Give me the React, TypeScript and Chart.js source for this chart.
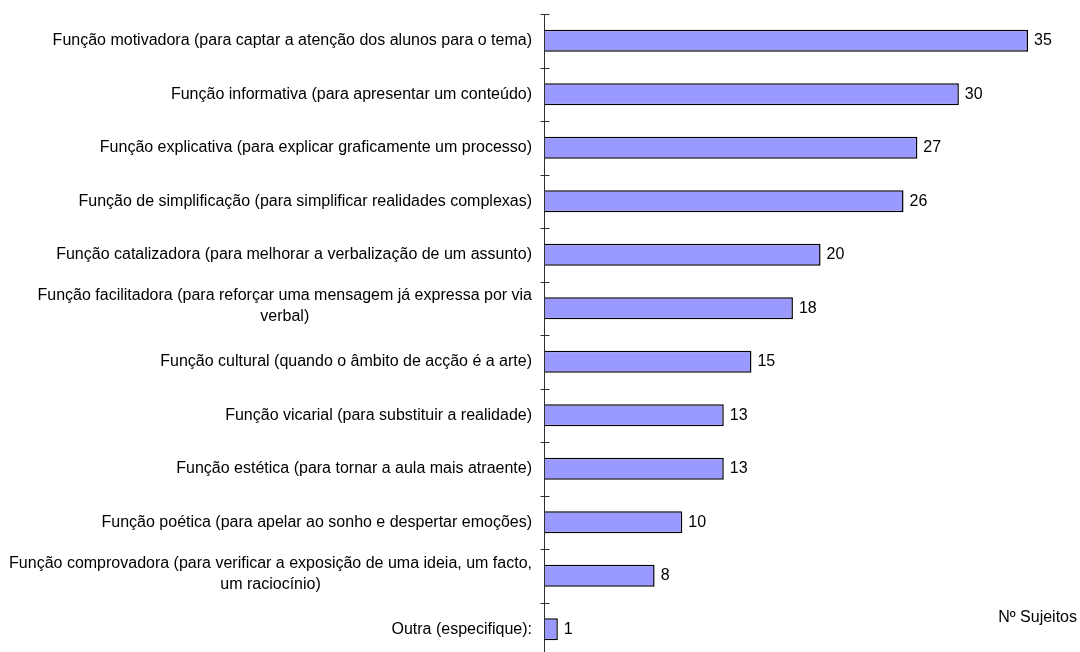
import React, { useEffect, useRef } from "react";
import { Chart, registerables } from "chart.js";

Chart.register(...registerables);

const categories: string[][] = [
  ["Função motivadora (para captar a atenção dos alunos para o tema)"],
  ["Função informativa (para apresentar um conteúdo)"],
  ["Função explicativa (para explicar graficamente um processo)"],
  ["Função de simplificação (para simplificar realidades complexas)"],
  ["Função catalizadora (para melhorar a verbalização de um assunto)"],
  ["Função facilitadora (para reforçar uma mensagem já expressa por via", "verbal)"],
  ["Função cultural (quando o âmbito de acção é a arte)"],
  ["Função vicarial (para substituir a realidade)"],
  ["Função estética (para tornar a aula mais atraente)"],
  ["Função poética (para apelar ao sonho e despertar emoções)"],
  ["Função comprovadora (para verificar a exposição de uma ideia, um facto,", "um raciocínio)"],
  ["Outra (especifique):"],
];
const values: number[] = [35, 30, 27, 26, 20, 18, 15, 13, 13, 10, 8, 1];
const axisTitle = "Nº Sujeitos";

const FONT = '16px "Liberation Sans", Arial, sans-serif';

const drawPlugin = {
  id: "customDraw",
  afterDatasetsDraw(chart: any) {
    const ctx = chart.ctx as CanvasRenderingContext2D;
    const xs = chart.scales.x;
    const ys = chart.scales.y;
    const area = chart.chartArea;
    const x0 = xs.getPixelForValue(0);
    const band = ys.getPixelForValue(1) - ys.getPixelForValue(0);
    ctx.save();
    // axis line
    ctx.strokeStyle = "#303030";
    ctx.lineWidth = 1;
    ctx.beginPath();
    const ax = Math.round(x0) + 0.5;
    ctx.moveTo(ax, area.top);
    ctx.lineTo(ax, area.bottom);
    for (let i = 0; i <= categories.length; i++) {
      const yb = Math.round(ys.getPixelForValue(0) - band / 2 + i * band) + 0.5;
      ctx.moveTo(ax - 4, yb);
      ctx.lineTo(ax + 5, yb);
    }
    ctx.stroke();

    // category labels
    ctx.font = FONT;
    ctx.fillStyle = "#000";
    ctx.textBaseline = "middle";
    ctx.textAlign = "center";
    const right = x0 - 12;
    const lh = 21;
    categories.forEach((lines, i) => {
      const yc = ys.getPixelForValue(i) - (lines.length > 1 ? 2 : 0);
      const maxW = Math.max(...lines.map((l) => ctx.measureText(l).width));
      const cx = right - maxW / 2;
      lines.forEach((l, j) => {
        const y = yc + (j - (lines.length - 1) / 2) * lh;
        ctx.fillText(l, cx, y);
      });
    });

    // value labels
    ctx.textAlign = "left";
    values.forEach((v, i) => {
      ctx.fillText(String(v), xs.getPixelForValue(v) + 6, ys.getPixelForValue(i));
    });

    // axis title
    ctx.textAlign = "right";
    ctx.fillText(axisTitle, 1077, 618);
    ctx.restore();
  },
};

export default function App() {
  const ref = useRef<HTMLCanvasElement | null>(null);
  useEffect(() => {
    if (!ref.current) return;
    const chart = new Chart(ref.current, {
      type: "bar",
      data: {
        labels: categories.map((c) => c.join(" ")),
        datasets: [
          {
            data: values,
            backgroundColor: "#9999FF",
            borderColor: "#000000",
            borderWidth: 1.5,
            barPercentage: 0.41,
            categoryPercentage: 1,
          },
        ],
      },
      options: {
        indexAxis: "y",
        animation: false,
        responsive: false,
        devicePixelRatio: 1,
        layout: { padding: { left: 544, right: 52, top: 14, bottom: 0 } },
        plugins: { legend: { display: false }, tooltip: { enabled: false } },
        scales: {
          x: { display: false, min: 0, max: 35 },
          y: { display: false, grid: { display: false } },
        },
      },
      plugins: [drawPlugin],
    });
    return () => chart.destroy();
  }, []);
  return (
    <div style={{ position: "absolute", left: 0, top: 0, width: 1080, height: 652, overflow: "hidden", background: "#fff" }}>
      <canvas ref={ref} width={1080} height={656} style={{ display: "block" }} />
    </div>
  );
}
